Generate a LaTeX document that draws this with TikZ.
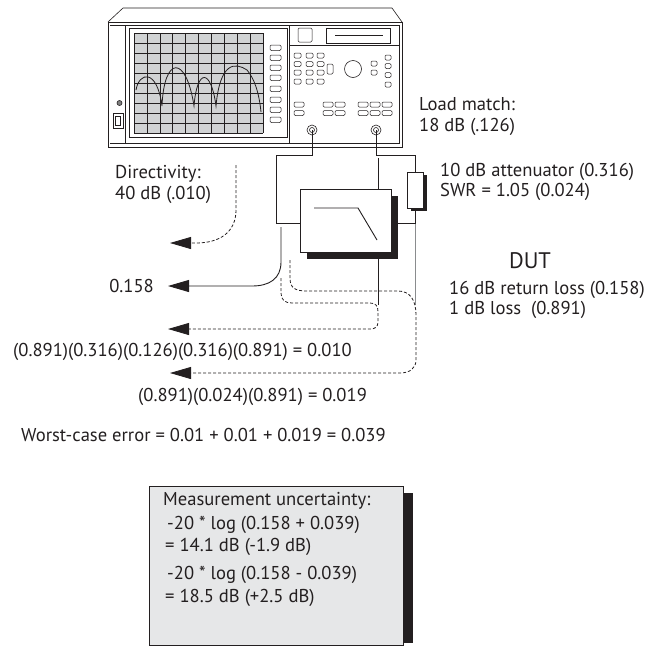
\documentclass[tikz,border=0pt]{standalone}
\usepackage{fontspec}
\setmainfont{PT Sans}
\usetikzlibrary{arrows.meta,calc}
\definecolor{ink}{HTML}{231F20}
\definecolor{boxgray}{HTML}{E6E7E8}
\definecolor{gridgray}{HTML}{D1D3D4}
\definecolor{wiregray}{HTML}{8A8C8E}
\tikzset{
  lbl/.style={anchor=base west, inner sep=0pt, text=ink, font=\fontsize{18.6}{21}\selectfont},
  lble/.style={lbl, anchor=base east},
  panel/.style={draw=ink, line width=0.6pt},
  keybox/.style={draw=ink, line width=0.5pt, rounded corners=1.2pt, fill=white},
  gridline/.style={draw=ink, line width=0.5pt},
  wire/.style={draw=ink, line width=0.9pt},
  tipstyle/.style={-{Triangle[length=21pt,width=12pt]}},
  solidarrow/.style={wire, tipstyle},
  dasharrow/.style={draw=ink, line width=0.8pt, dash pattern=on 3pt off 2pt, tipstyle},
  port/.style={circle, draw=ink, fill=white, line width=0.6pt, minimum size=10pt, inner sep=0pt},
}
\begin{document}
\begin{tikzpicture}[x=1pt,y=-1pt]
\useasboundingbox (0,0) rectangle (660,646);

% ---------------- instrument ----------------
\draw[panel] (108,22) -- (123,8) -- (392,8) -- (402,22);
\draw[panel, line width=0.8pt] (108,22) rectangle (402,147);
\draw[panel] (110,25) -- (399,25) -- (399,143) -- (110,143);
\draw[panel] (125,25) -- (125,143);
\draw[panel] (289,25) -- (289,143);
\draw[panel] (289,45) -- (399,45);
% left panel
\draw[panel, fill=gray] (119.5,103) circle (2.5);
\draw[panel] (113,113) rectangle (123,128);
\draw[panel] (115.5,116) rectangle (120.5,125);
% screen
\draw[panel] (129,28) rectangle (287,137);
\fill[gridgray] (134,33) rectangle (263,133);
\foreach \i in {0,...,10} \draw[gridline] ({134+\i*12.9},33) -- ({134+\i*12.9},133);
\foreach \j in {0,...,10} \draw[gridline] (134,{33+\j*10}) -- (263,{33+\j*10});
\draw[draw=ink, line width=0.8pt]
  (136,90) .. controls (139,72) and (157,68) .. (162,106)
  .. controls (164,56) and (186,54) .. (194,106)
  .. controls (197,68) and (211,68) .. (216,106)
  .. controls (220,62) and (235,62) .. (247,70)
  .. controls (254,78) and (259,92) .. (261,112);
% soft keys
\foreach \y in {45,55,65,75,86,97,107,117} \draw[keybox] (270,\y) rectangle ++(11,5.5);
% right panel
\draw[keybox] (298,28) rectangle (312,42);
\draw[panel] (326,28) rectangle (390,43);
\draw[panel] (335,35) -- (383,35);
\foreach \x in {294,306,317} \foreach \y in {53,61.5,70,79} \draw[keybox] (\x,\y) rectangle ++(7,5);
\draw[keybox] (327,64) rectangle (333,74);
\draw[panel] (353,69) circle (8.5);
\foreach \y in {61,70} \draw[keybox] (371,\y) rectangle ++(6,5);
\foreach \y in {55,63.5,72.5,82} \draw[keybox] (385,\y) rectangle ++(6,5);
\foreach \y in {102,110.5} \foreach \x in {294,323,335,358,370,382} \draw[keybox] (\x,\y) rectangle ++(10,5);
% ports
\node[port] (port1) at (312,130) {};
\node[port] (port2) at (376,130) {};
\draw[panel] (port1.center) circle (2.5);
\draw[panel] (port2.center) circle (2.5);

% ---------------- wiring & DUT ----------------
\coordinate (lcorner) at (276,223);
\coordinate (rcorner) at (415.5,223);
\coordinate (thrutop) at (378,158);
\coordinate (thrubot) at (378,305);
\draw[wire] (thrutop) -- (thrubot);
\draw[wire, draw=wiregray] (rcorner) -- (415.5,305);
\fill[ink] (307,196) rectangle (398,259);
\node[draw=ink, fill=white, line width=0.9pt, minimum width=91pt, minimum height=63pt, inner sep=0pt] (dut) at (345.5,220.5) {};
\draw[wire] (314,208) -- (358,208) -- (377,240);
\fill[ink] (410.5,175) rectangle (426.5,211);
\node[draw=ink, fill=white, line width=0.9pt, minimum width=16pt, minimum height=36pt, inner sep=0pt] (att) at (415.5,190) {};
\draw[wire] (port1.center) -- ++(0,25) -| (lcorner) -- (lcorner -| dut.west);
\draw[wire] (port2.center) -- ++(0,25) -| (att.north);
\draw[wire] (att.south) -- (rcorner) -- (rcorner -| dut.east);

% ---------------- reflection arrows ----------------
\coordinate (tipdir) at (170,243);
\coordinate (tipa) at (168,286);
\coordinate (tipb) at (168,329);
\coordinate (tipc) at (170,373);
\coordinate (sdir) at (236,165);
\coordinate (sa) at (281,227);
\coordinate (sb) at (281,278);
\coordinate (sc) at (290,260);
\draw[dasharrow] (sdir) -- (236,210) .. controls (236,232) and (220,243) .. (196,243) -- (tipdir);
\draw[solidarrow] (sa) -- (281,262) .. controls (281,279) and (269,286) .. (252,286) -- (tipa);
\draw[dasharrow] (sb) -- (281,293) .. controls (281,300) and (285,303) .. (292,303) -- (370,303)
  .. controls (376,303) and (378,306) .. (378,312) -- (378,322)
  .. controls (378,327) and (375,329) .. (370,329) -- (tipb);
\draw[dasharrow] (sc) -- (290,278) .. controls (290,288) and (295,291) .. (307,291) -- (398,291)
  .. controls (410,291) and (416,300) .. (416,315) -- (416,360)
  .. controls (416,368) and (410,373) .. (400,373) -- (tipc);

% ---------------- labels (base = last line) ----------------
\node[lbl, align=left] (dirlbl) at (115,199.5) {Directivity:\\40 dB (.010)};
\node[lbl, align=left] (loadlbl) at (419,131) {Load match:\\18 dB (.126)};
\node[lbl, align=left, font=\fontsize{18.6}{20}\selectfont] (attlbl) at (440,196) {10 dB attenuator (0.316)\\SWR = 1.05 (0.024)};
\node[anchor=base, inner sep=0pt, text=ink, font=\fontsize{22.5}{26}\selectfont] (dutlbl) at (530,268) {DUT};
\node[lbl, align=left, font=\fontsize{18.6}{20}\selectfont] (dutinfo) at (449,314.5) {16 dB return loss (0.158)\\1 dB loss\ \ (0.891)};
\node[lble] (v158) at (154,292.5) {0.158};
\node[lbl] (v010) at (13,356.5) {(0.891)(0.316)(0.126)(0.316)(0.891) = 0.010};
\node[lbl] (v019) at (138,401.5) {(0.891)(0.024)(0.891) = 0.019};
\node[lbl] (worst) at (21,441.5) {Worst-case error = 0.01 + 0.01 + 0.019 = 0.039};

% ---------------- uncertainty box ----------------
\fill[ink] (403,493) rectangle (413,643);
\node[draw=ink, fill=boxgray, line width=0.8pt, minimum width=254pt, minimum height=159pt, inner sep=0pt, anchor=north west] (mubox) at (149,486) {};
\node[lbl] (mu1) at (163,505.5) {Measurement uncertainty:};
\node[lbl] (mu2) at (167,529.5) {-20 * log (0.158 + 0.039)};
\node[lbl] (mu3) at (165,551.5) {= 14.1 dB (-1.9 dB)};
\node[lbl] (mu4) at (167,579.5) {-20 * log (0.158 - 0.039)};
\node[lbl] (mu5) at (165,602.5) {= 18.5 dB (+2.5 dB)};
\end{tikzpicture}
\end{document}
